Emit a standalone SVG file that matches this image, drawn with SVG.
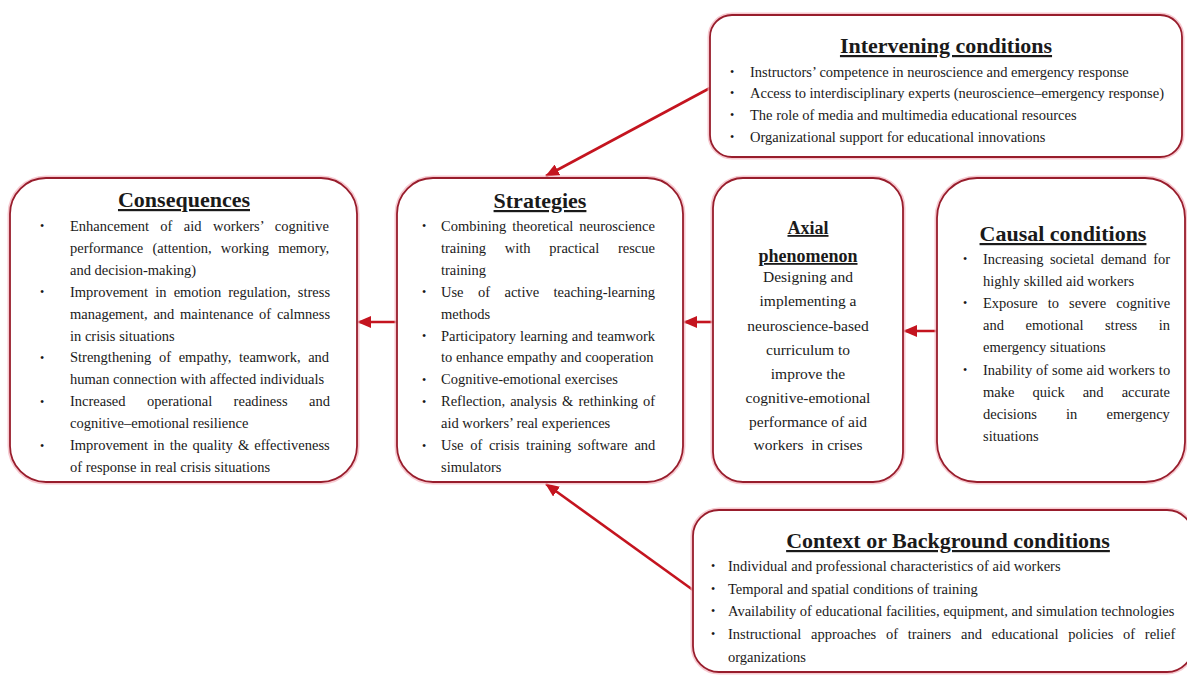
<svg xmlns="http://www.w3.org/2000/svg" width="1187" height="675" viewBox="0 0 1187 675">
<style>
.halo{fill:none;stroke:#f4b3bd;stroke-width:5;opacity:0.7}
.box{fill:#ffffff;stroke:#981d2c;stroke-width:1.8}
.t{font-family:"Liberation Serif","Times New Roman",serif;font-size:14.5px;fill:#1a1a1a}
.ax{font-family:"Liberation Serif","Times New Roman",serif;font-size:15.5px;fill:#1a1a1a;text-anchor:middle}
.h{font-family:"Liberation Serif","Times New Roman",serif;font-size:22px;font-weight:bold;fill:#1a1a1a;text-anchor:middle;text-decoration:underline}
.ha{font-family:"Liberation Serif","Times New Roman",serif;font-size:18px;font-weight:bold;fill:#1a1a1a;text-anchor:middle;text-decoration:underline}
.b{font-family:"Liberation Serif","Times New Roman",serif;font-size:12px;fill:#1a1a1a}
.arr{stroke:#c4141f;stroke-width:2.6;fill:none}
</style>
<defs>
<marker id="ah" markerUnits="userSpaceOnUse" markerWidth="14" markerHeight="12" refX="13" refY="6" orient="auto">
<path d="M0,0 L14,6 L0,12 Z" fill="#c4141f"/>
</marker>
</defs>
<rect width="1187" height="675" fill="#ffffff"/>

<g id="connectors">
<line class="arr" x1="710" y1="88" x2="546" y2="176" marker-end="url(#ah)"/>
<line class="arr" x1="693" y1="590" x2="546" y2="484" marker-end="url(#ah)"/>
<line class="arr" x1="713" y1="322" x2="684" y2="322" marker-end="url(#ah)"/>
<line class="arr" x1="937" y1="331" x2="904" y2="331" marker-end="url(#ah)"/>
<line class="arr" x1="397" y1="322" x2="358" y2="322" marker-end="url(#ah)"/>
</g>

<g id="intervening">
<rect class="halo" x="710" y="15" width="472" height="142" rx="22"/>
<rect class="box" x="710" y="15" width="472" height="142" rx="22"/>
<text class="h" x="946" y="53">Intervening conditions</text>
<text class="b" x="730" y="76">•</text><text class="t" x="750" y="77">Instructors’ competence in neuroscience and emergency response</text>
<text class="b" x="730" y="97">•</text><text class="t" x="750" y="98">Access to interdisciplinary experts (neuroscience–emergency response)</text>
<text class="b" x="730" y="119">•</text><text class="t" x="750" y="120">The role of media and multimedia educational resources</text>
<text class="b" x="730" y="141">•</text><text class="t" x="750" y="142">Organizational support for educational innovations</text>
</g>

<g id="consequences">
<rect class="halo" x="10" y="178" width="347" height="304" rx="36"/>
<rect class="box" x="10" y="178" width="347" height="304" rx="36"/>
<text class="h" x="184" y="207">Consequences</text>
<text class="b" x="40" y="230">•</text>
<text class="t" x="70" y="231" word-spacing="7.8">Enhancement of aid workers’ cognitive</text>
<text class="t" x="70" y="252.9" word-spacing="5.5">performance (attention, working memory,</text>
<text class="t" x="70" y="274.8">and decision-making)</text>
<text class="b" x="40" y="296">•</text>
<text class="t" x="70" y="296.7" word-spacing="3.5">Improvement in emotion regulation, stress</text>
<text class="t" x="70" y="318.6" word-spacing="2.1">management, and maintenance of calmness</text>
<text class="t" x="70" y="340.5">in crisis situations</text>
<text class="b" x="40" y="362">•</text>
<text class="t" x="70" y="362.4" word-spacing="4">Strengthening of empathy, teamwork, and</text>
<text class="t" x="70" y="384.3">human connection with affected individuals</text>
<text class="b" x="40" y="406">•</text>
<text class="t" x="70" y="406.2" word-spacing="17.8">Increased operational readiness and</text>
<text class="t" x="70" y="428.1">cognitive–emotional resilience</text>
<text class="b" x="40" y="450">•</text>
<text class="t" x="70" y="450" word-spacing="1.5">Improvement in the quality &amp; effectiveness</text>
<text class="t" x="70" y="471.9">of response in real crisis situations</text>
</g>

<g id="strategies">
<rect class="halo" x="397" y="178" width="286" height="304" rx="36"/>
<rect class="box" x="397" y="178" width="286" height="304" rx="36"/>
<text class="h" x="540" y="208">Strategies</text>
<text class="b" x="422" y="230">•</text>
<text class="t" x="441" y="231" word-spacing="2.3">Combining theoretical neuroscience</text>
<text class="t" x="441" y="252.9" word-spacing="15.1">training with practical rescue</text>
<text class="t" x="441" y="274.8">training</text>
<text class="b" x="422" y="296">•</text>
<text class="t" x="441" y="296.7" word-spacing="10.8">Use of active teaching-learning</text>
<text class="t" x="441" y="318.6">methods</text>
<text class="b" x="422" y="340">•</text>
<text class="t" x="441" y="340.5" word-spacing="0.6">Participatory learning and teamwork</text>
<text class="t" x="441" y="362.4">to enhance empathy and cooperation</text>
<text class="b" x="422" y="384">•</text>
<text class="t" x="441" y="384.3">Cognitive-emotional exercises</text>
<text class="b" x="422" y="406">•</text>
<text class="t" x="441" y="406.2" word-spacing="1.5">Reflection, analysis &amp; rethinking of</text>
<text class="t" x="441" y="428.1">aid workers’ real experiences</text>
<text class="b" x="422" y="450">•</text>
<text class="t" x="441" y="450" word-spacing="3">Use of crisis training software and</text>
<text class="t" x="441" y="471.9">simulators</text>
</g>

<g id="axial">
<rect class="halo" x="713" y="178" width="190" height="304" rx="30"/>
<rect class="box" x="713" y="178" width="190" height="304" rx="30"/>
<text class="ha" x="808" y="234">Axial</text>
<text class="ha" x="808" y="262">phenomenon</text>
<text class="ax" x="808" y="282">Designing and</text>
<text class="ax" x="808" y="306">implementing a</text>
<text class="ax" x="808" y="331">neuroscience-based</text>
<text class="ax" x="808" y="355">curriculum to</text>
<text class="ax" x="808" y="379">improve the</text>
<text class="ax" x="808" y="403">cognitive-emotional</text>
<text class="ax" x="808" y="427">performance of aid</text>
<text class="ax" x="808" y="450" xml:space="preserve">workers  in crises</text>
</g>

<g id="causal">
<rect class="halo" x="937" y="178" width="248" height="304" rx="40"/>
<rect class="box" x="937" y="178" width="248" height="304" rx="40"/>
<text class="h" x="1063" y="241">Causal conditions</text>
<text class="b" x="963" y="263">•</text>
<text class="t" x="983" y="264" word-spacing="2.9">Increasing societal demand for</text>
<text class="t" x="983" y="286.1">highly skilled aid workers</text>
<text class="b" x="963" y="307">•</text>
<text class="t" x="983" y="308.2" word-spacing="6.4">Exposure to severe cognitive</text>
<text class="t" x="983" y="330.3" word-spacing="17.9">and emotional stress in</text>
<text class="t" x="983" y="352.4">emergency situations</text>
<text class="b" x="963" y="374">•</text>
<text class="t" x="983" y="374.5" word-spacing="0.3">Inability of some aid workers to</text>
<text class="t" x="983" y="396.6" word-spacing="14.4">make quick and accurate</text>
<text class="t" x="983" y="418.7" word-spacing="25.5">decisions in emergency</text>
<text class="t" x="983" y="440.8">situations</text>
</g>

<g id="context">
<rect class="halo" x="693" y="510" width="500" height="162" rx="26"/>
<rect class="box" x="693" y="510" width="500" height="162" rx="26"/>
<text class="h" x="948" y="548">Context or Background conditions</text>
<text class="b" x="711" y="570">•</text><text class="t" x="728" y="571">Individual and professional characteristics of aid workers</text>
<text class="b" x="711" y="593">•</text><text class="t" x="728" y="594">Temporal and spatial conditions of training</text>
<text class="b" x="711" y="615">•</text><text class="t" x="728" y="616">Availability of educational facilities, equipment, and simulation technologies</text>
<text class="b" x="711" y="638">•</text><text class="t" x="728" y="639" word-spacing="6.1">Instructional approaches of trainers and educational policies of relief</text>
<text class="t" x="728" y="662">organizations</text>
</g>
</svg>
